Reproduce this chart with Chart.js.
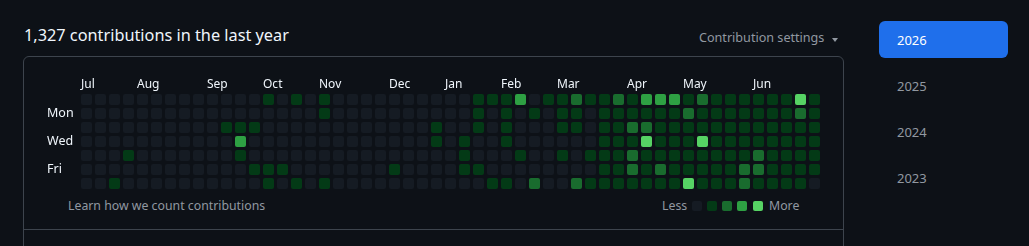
<!DOCTYPE html>
<html><head><meta charset="utf-8">
<script src="https://cdn.jsdelivr.net/npm/chart.js@4.4.1/dist/chart.umd.min.js"></script>
<style>
html,body{margin:0;padding:0;background:#0d1117;width:1029px;height:246px;overflow:hidden;font-family:"Noto Sans",sans-serif;}
.t{position:absolute;white-space:nowrap;}
#title{left:24px;top:24px;font-size:16.3px;line-height:22px;color:#f0f6fc;}
#settings{left:699px;top:29px;font-size:12.6px;line-height:18px;color:#9198a1;}
#caret{position:absolute;left:832px;top:38px;width:0;height:0;border-left:3px solid transparent;border-right:3px solid transparent;border-top:4px solid #9198a1;}
#box{position:absolute;left:23px;top:56px;width:819px;height:172px;border:1px solid #3d444d;border-radius:6px 6px 0 0;}
#box2{position:absolute;left:23px;top:229px;width:819px;height:40px;border:1px solid #3d444d;border-top:none;}
#learn{left:68px;top:197px;font-size:12.3px;line-height:18px;color:#9198a1;}
#less{left:662px;top:197px;font-size:12.3px;line-height:18px;color:#9198a1;}
#more{left:769px;top:197px;font-size:12.3px;line-height:18px;color:#9198a1;}
.lg{position:absolute;top:201px;width:10px;height:10px;border-radius:2px;}
#yearSel{position:absolute;left:879px;top:21px;width:129px;height:37px;border-radius:6px;background:#1f6feb;}
.yr{position:absolute;left:897px;font-size:13px;line-height:18px;color:#9198a1;}
#chartWrap{position:absolute;left:47px;top:66px;width:778px;height:128px;}
</style></head>
<body>
<div class="t" id="title">1,327 contributions in the last year</div>
<div class="t" id="settings">Contribution settings</div>
<div id="caret"></div>
<div id="box"></div>
<div id="box2"></div>
<div id="chartWrap"><canvas id="c" width="778" height="128"></canvas></div>
<div class="t" id="learn">Learn how we count contributions</div>
<div class="t" id="less">Less</div>
<div class="t" id="more">More</div>
<div id="legendCells"></div>
<div id="yearSel"></div>
<div id="years"></div>
<script>
const monthLabels = ['Jul','Aug','Sep','Oct','Nov','Dec','Jan','Feb','Mar','Apr','May','Jun'];
const monthCols = [0,4,9,13,17,22,26,30,34,39,43,48];
const dayLabels = ['Mon','Wed','Fri'];
const dayRows = [1,3,5];
const levelColors = ['#151b23','#033a16','#196c2e','#2ea043','#56d364'];
const years = ['2026','2025','2024','2023'];

const sun = [0,0,0,0,0,0,0,0,0,0, 0,0,0,1,0,1,0,1,0,0, 0,0,0,0,0,0,0,0,1,1, 1,3,0,1,1,2,1,1,2,1, 3,3,3,1,2,1,1,1,1,1, 1,4,1];
const mon = [0,0,0,0,0,0,0,0,0,0, 0,0,0,0,0,0,0,1,0,0, 0,0,0,0,0,0,0,0,1,0, 1,0,1,0,1,1,0,1,1,1, 1,1,1,2,1,1,1,1,1,1, 1,2,1];
const tue = [0,0,0,0,0,0,0,0,0,0, 1,1,1,0,0,0,0,0,0,0, 0,0,0,0,0,1,0,0,1,0, 1,0,0,0,1,1,0,1,1,2, 2,1,1,1,1,1,1,1,1,1, 1,1,1];
const wed = [0,0,0,0,0,0,0,0,0,0, 0,3,0,0,0,0,0,0,0,0, 0,0,0,0,0,1,0,1,0,0, 1,0,0,0,0,0,0,1,1,1, 4,1,1,1,4,1,1,1,1,1, 1,1,1];
const thu = [0,0,0,1,0,0,0,0,0,0, 0,1,0,0,0,0,0,0,0,0, 0,0,0,0,0,0,0,1,0,0, 0,1,0,0,1,0,1,1,1,2, 1,1,1,1,1,1,1,1,2,1, 1,1,1];
const fri = [0,0,0,0,0,0,0,0,0,0, 0,0,1,1,1,0,0,0,0,0, 0,0,1,0,0,0,0,1,1,0, 0,0,0,0,0,0,0,1,1,2, 1,2,1,1,1,1,1,2,2,1, 1,1,1];
const sat = [0,0,1,0,0,0,0,0,0,0, 0,0,0,1,0,1,0,1,0,0, 0,0,0,0,0,0,0,0,0,1, 1,0,2,0,0,2,1,1,1,1, 1,1,1,4,1,1,1,2,1,1, 1,1,0];

const rows = [sun, mon, tue, wed, thu, fri, sat];

const lgX = [692,707,722,737,753];
levelColors.forEach((c,i)=>{
  const d=document.createElement('div'); d.className='lg';
  d.style.left=lgX[i]+'px'; d.style.background=c;
  document.getElementById('legendCells').appendChild(d);
});
years.forEach((y,i)=>{
  const d=document.createElement('div'); d.className='yr'; d.textContent=y;
  d.style.top=(31+46*i)+'px';
  if(i===0){d.style.color='#ffffff';}
  document.getElementById('years').appendChild(d);
});

function cellImg(color){
  const cv=document.createElement('canvas'); cv.width=11; cv.height=11;
  const g=cv.getContext('2d'); g.fillStyle=color;
  g.beginPath(); g.roundRect(0,0,11,11,2); g.fill();
  return cv;
}
const cellImgs = levelColors.map(cellImg);

const points=[];
rows.forEach((arr,r)=>arr.forEach((v,c)=>points.push({x:c,y:r,v:v})));

function zeroPad(s){s.paddingLeft=0;s.paddingRight=0;s.paddingTop=0;s.paddingBottom=0;}

new Chart(document.getElementById('c'),{
  type:'scatter',
  data:{datasets:[{data:points,
    pointStyle:ctx=>cellImgs[ctx.raw ? ctx.raw.v : 0],
    pointBackgroundColor:ctx=>levelColors[ctx.raw ? ctx.raw.v : 0],
    pointBorderWidth:0,pointRadius:5.5,pointHoverRadius:5.5}]},
  options:{
    responsive:false,animation:false,devicePixelRatio:1,
    layout:{padding:0,autoPadding:false},
    plugins:{legend:{display:false},tooltip:{enabled:false}},
    events:[],
    scales:{
      x:{type:'linear',position:'top',min:-0.75,max:52.75,
        grid:{display:false,drawTicks:false},border:{display:false},
        afterBuildTicks:s=>{s.ticks=monthCols.map(c=>({value:c-5.5/14}));},
        afterFit:s=>{s.height=26;zeroPad(s);},
        ticks:{align:'start',autoSkip:false,maxRotation:0,padding:1.5,color:'#f0f6fc',
          font:{family:'"Noto Sans"',size:12,lineHeight:1},
          callback:(v,i)=>monthLabels[i]}},
      y:{type:'linear',position:'left',reverse:true,min:-7.5/14,max:6.75,
        grid:{display:false,drawTicks:false},border:{display:false},
        afterBuildTicks:s=>{s.ticks=dayRows.map(r=>({value:r}));},
        afterFit:s=>{s.width=29;zeroPad(s);},
        ticks:{crossAlign:'far',autoSkip:false,padding:0,color:'#f0f6fc',
          font:{family:'"Noto Sans"',size:12.5},
          callback:(v,i)=>dayLabels[i]}}
    }
  }
});
</script>
</body></html>
